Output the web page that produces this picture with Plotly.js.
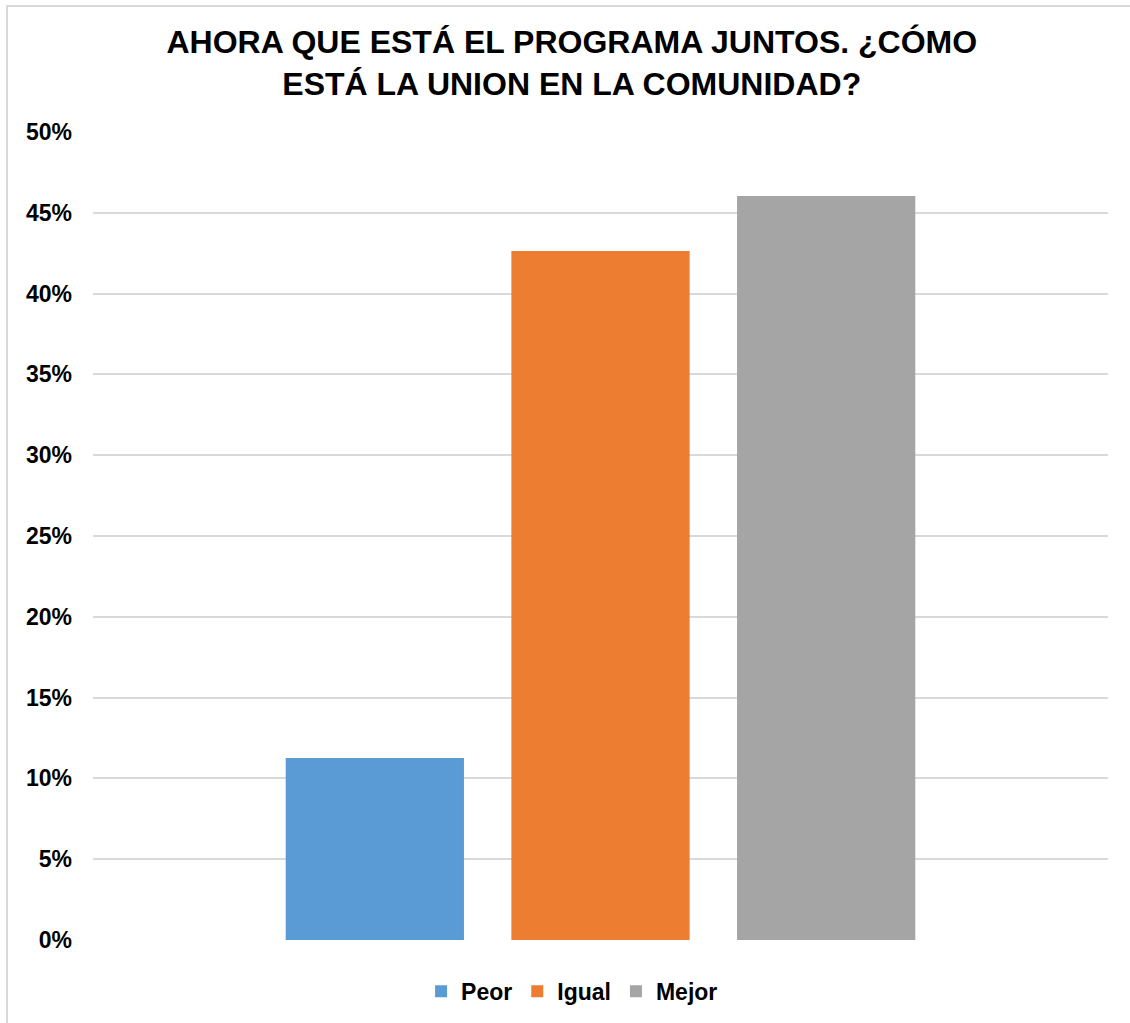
<!DOCTYPE html>
<html>
<head>
<meta charset="utf-8">
<script src="https://cdn.plot.ly/plotly-3.0.1.min.js"></script>
<style>
  html, body { margin: 0; padding: 0; background: #ffffff; }
  #chart { width: 1130px; height: 1023px; position: absolute; left: 0; top: 0; }
  #frame { position: absolute; left: 6px; top: 5px; width: 1140px; height: 1040px;
           border-left: 2px solid #d9d9d9; border-top: 2px solid #d9d9d9; pointer-events: none; }
</style>
</head>
<body>
<div id="chart"></div>
<div id="frame"></div>
<script>
const category = [""];
const seriesNames = ["Peor", "Igual", "Mejor"];
const seriesValues = [0.1126, 0.4264, 0.4604];
const seriesColors = ["#5b9bd5", "#ed7d31", "#a5a5a5"];
const tickVals = [0, 0.05, 0.10, 0.15, 0.20, 0.25, 0.30, 0.35, 0.40, 0.45, 0.50];
const tickText = ["0%", "5%", "10%", "15%", "20%", "25%", "30%", "35%", "40%", "45%", "50%"];

const font = "Liberation Sans, Arial, sans-serif";

const traces = seriesNames.map((name, i) => ({
  type: "bar",
  name: name,
  x: category,
  y: [seriesValues[i]],
  marker: { color: seriesColors[i] },
  hoverinfo: "name+y"
}));

const layout = {
  width: 1130,
  height: 1023,
  paper_bgcolor: "#ffffff",
  plot_bgcolor: "#ffffff",
  margin: { l: 93, r: 22, t: 132, b: 83, autoexpand: false },
  title: {
    text: "<b>AHORA QUE ESTÁ EL PROGRAMA JUNTOS. ¿CÓMO<br>ESTÁ LA UNION EN LA COMUNIDAD?</b>",
    font: { family: font, size: 32, color: "#000000" },
    x: 0.506, xref: "container", xanchor: "center",
    y: 0.948, yref: "container", yanchor: "middle"
  },
  barmode: "group",
  bargap: 0.333,
  bargroupgap: 0.21,
  xaxis: {
    showgrid: false, zeroline: false, showline: false, showticklabels: false,
    fixedrange: true
  },
  yaxis: {
    range: [0, 0.5],
    tickvals: tickVals,
    ticktext: tickText,
    showgrid: true, gridcolor: "#d9d9d9", gridwidth: 2,
    zeroline: false, showline: false,
    ticks: "", ticklabelstandoff: 20,
    tickfont: { family: font, size: 23, color: "#000000", weight: "bold" },
    fixedrange: true
  },
  showlegend: true,
  legend: {
    orientation: "h",
    x: 0.472, xanchor: "center", xref: "paper",
    y: 0.031, yanchor: "middle", yref: "container",
    font: { family: font, size: 23, color: "#000000", weight: "bold" },
    itemwidth: 30, itemsizing: "constant", traceorder: "normal"
  }
};

Plotly.newPlot("chart", traces, layout, { displayModeBar: false, staticPlot: true });
</script>
</body>
</html>
